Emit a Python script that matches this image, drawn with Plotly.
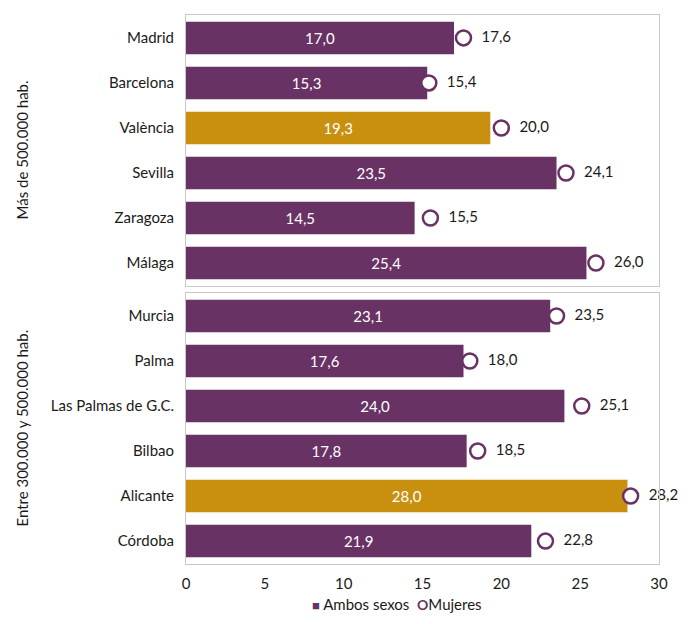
import plotly.graph_objects as go
from plotly.subplots import make_subplots

# Panel 1: cities over 500.000 inhabitants
big_cities = ["Madrid", "Barcelona", "València", "Sevilla", "Zaragoza", "Málaga"]
big_both = [17.0, 15.3, 19.3, 23.5, 14.5, 25.4]
big_women = [17.6, 15.4, 20.0, 24.1, 15.5, 26.0]
big_highlight = [False, False, True, False, False, False]

# Panel 2: cities between 300.000 and 500.000 inhabitants
mid_cities = ["Murcia", "Palma", "Las Palmas de G.C.", "Bilbao", "Alicante", "Córdoba"]
mid_both = [23.1, 17.6, 24.0, 17.8, 28.0, 21.9]
mid_women = [23.5, 18.0, 25.1, 18.5, 28.2, 22.8]
mid_highlight = [False, False, False, False, True, False]

panel_titles = ["Más de 500.000 hab.", "Entre 300.000 y 500.000 hab."]
x_ticks = [0, 5, 10, 15, 20, 25, 30]
legend_labels = ["Ambos sexos", "Mujeres"]

PURPLE = "#693264"
GOLD = "#c8900e"
TEXT = "#1a1a1a"
FONT = "Lato, 'Open Sans', sans-serif"
FS = 15

# the page body has an 8px margin, so the figure is sized to fit inside it
W, H = 672, 608
PLOT_L, PLOT_R = 178, 651
PLOT_T, PLOT_B = 7, 556


def fmt(v):
    return f"{v:.1f}".replace(".", ",")


fig = make_subplots(rows=2, cols=1, shared_xaxes=True, vertical_spacing=0.013)

panels = [
    (big_cities, big_both, big_women, big_highlight),
    (mid_cities, mid_both, mid_women, mid_highlight),
]
for row, (cities, both, women, hl) in enumerate(panels, start=1):
    fig.add_trace(
        go.Bar(
            x=both,
            y=cities,
            orientation="h",
            width=0.72,
            marker={"color": [GOLD if h else PURPLE for h in hl], "line": {"width": 0}},
            text=[fmt(v) for v in both],
            textposition="inside",
            insidetextanchor="middle",
            textfont={"color": "white", "size": FS, "family": FONT},
            showlegend=False,
            hoverinfo="skip",
        ),
        row=row,
        col=1,
    )
    fig.add_trace(
        go.Scatter(
            x=women,
            y=cities,
            mode="markers+text",
            marker={
                "symbol": "circle",
                "size": 15,
                "color": "white",
                "line": {"color": PURPLE, "width": 2.5},
            },
            text=["  " + fmt(v) for v in women],
            textposition="middle right",
            textfont={"color": TEXT, "size": FS, "family": FONT},
            showlegend=False,
            cliponaxis=False,
            hoverinfo="skip",
        ),
        row=row,
        col=1,
    )

for row in (1, 2):
    fig.update_yaxes(
        autorange="reversed",
        showline=True,
        mirror=True,
        linecolor="#c8c8c8",
        linewidth=1,
        ticks="",
        ticklabelstandoff=8,
        tickfont={"size": FS, "color": TEXT, "family": FONT},
        row=row,
        col=1,
    )
    fig.update_xaxes(
        range=[0, 30],
        tickvals=x_ticks,
        showgrid=False,
        zeroline=False,
        showline=True,
        mirror=True,
        linecolor="#c8c8c8",
        linewidth=1,
        ticks="",
        ticklabelstandoff=6,
        tickfont={"size": FS, "color": TEXT, "family": FONT},
        row=row,
        col=1,
    )

plot_w = PLOT_R - PLOT_L
plot_h = PLOT_B - PLOT_T
for yref, title in zip(["y domain", "y2 domain"], panel_titles):
    fig.add_annotation(
        text=title,
        xref="paper",
        yref=yref,
        x=-(PLOT_L - 14) / plot_w,
        y=0.5,
        xanchor="center",
        yanchor="middle",
        textangle=-90,
        showarrow=False,
        font={"size": FS, "color": TEXT, "family": FONT},
    )

# compact legend, symbol right next to its label
legend_text = (
    f"<span style='color:{PURPLE};font-size:13px'>■</span> {legend_labels[0]}  "
    f"<span style='color:{PURPLE};font-size:14px'><b>O</b></span>{legend_labels[1]}"
)
fig.add_annotation(
    text=legend_text,
    xref="paper",
    yref="paper",
    x=(389 - PLOT_L) / plot_w,
    y=-(607 - PLOT_B) / plot_h,
    xanchor="center",
    yanchor="bottom",
    showarrow=False,
    font={"size": FS, "color": TEXT, "family": FONT},
)

fig.update_layout(
    width=W,
    height=H,
    margin={"l": PLOT_L, "r": W - PLOT_R, "t": PLOT_T, "b": H - PLOT_B},
    plot_bgcolor="white",
    paper_bgcolor="white",
    font={"family": FONT, "size": FS, "color": TEXT},
    showlegend=False,
)

fig.write_html("out.html")
